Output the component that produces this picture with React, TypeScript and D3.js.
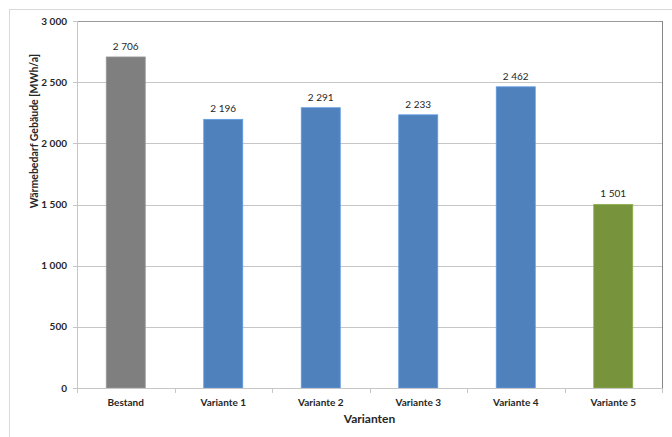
import React from "react";
import * as d3 from "d3";

const categories = ["Bestand", "Variante 1", "Variante 2", "Variante 3", "Variante 4", "Variante 5"];
const values = [2706, 2196, 2291, 2233, 2462, 1501];
const barColors = ["#7f7f7f", "#4f81bd", "#4f81bd", "#4f81bd", "#4f81bd", "#77933c"];
const yTicks = [0, 500, 1000, 1500, 2000, 2500, 3000];
const yTitle = "Wärmebedarf Gebäude [MWh/a]";
const xTitle = "Varianten";

const W = 672;
const H = 437;
const plot = { left: 77, right: 662, top: 21, bottom: 388 };
const FONT = "Lato, 'Open Sans', sans-serif";

// thousands separated by a space, e.g. "2 706"
const fmt = (v: number) => d3.format(",")(v).replace(/,/g, " ");

export default function App() {
  const x = d3
    .scaleBand<string>()
    .domain(categories)
    .range([plot.left, plot.right])
    .paddingInner(0.6)
    .paddingOuter(0.3);
  const y = d3.scaleLinear().domain([0, 3000]).range([plot.bottom, plot.top]);

  const catWidth = (plot.right - plot.left) / categories.length;
  const boundaries = d3.range(categories.length + 1).map((i) => plot.left + i * catWidth);

  return (
    <svg width={W} height={H} style={{ position: "absolute", left: 0, top: 0, background: "#fff" }}>
      {/* chart frame */}
      <rect x={9.5} y={9.5} width={700} height={460} fill="#fff" stroke="#d9d9d9" />

      {/* gridlines */}
      {yTicks.map((t) => (
        <line key={t} x1={plot.left} x2={plot.right} y1={Math.round(y(t)) + 0.5} y2={Math.round(y(t)) + 0.5} stroke="#c6c6c6" />
      ))}

      {/* plot area border (top/right) */}
      <line x1={plot.left} x2={plot.right + 0.5} y1={plot.top + 0.5} y2={plot.top + 0.5} stroke="#9a9a9a" />
      <line x1={plot.right + 0.5} x2={plot.right + 0.5} y1={plot.top} y2={plot.bottom + 1} stroke="#868686" />

      {/* bars */}
      {categories.map((c, i) => (
        <rect
          key={c}
          x={x(c)!}
          y={y(values[i])}
          width={x.bandwidth()}
          height={plot.bottom - y(values[i])}
          fill={barColors[i]}
          stroke={d3.color(barColors[i])!.brighter(0.5).toString()}
          strokeWidth={0.8}
        />
      ))}

      {/* y axis */}
      <line x1={plot.left + 0.5} x2={plot.left + 0.5} y1={plot.top} y2={plot.bottom} stroke="#c6c6c6" />
      {yTicks.map((t) => (
        <g key={t}>
          <line x1={plot.left - 4} x2={plot.left} y1={Math.round(y(t)) + 0.5} y2={Math.round(y(t)) + 0.5} stroke="#c6c6c6" />
          <text x={67} y={y(t) + 3.5} textAnchor="end" fontFamily={FONT} fontWeight="bold" fontSize={10} fill="#262626">
            {fmt(t)}
          </text>
        </g>
      ))}

      {/* x axis */}
      <line x1={plot.left} x2={plot.right} y1={plot.bottom + 0.5} y2={plot.bottom + 0.5} stroke="#c6c6c6" />
      {boundaries.map((b, i) => (
        <line key={i} x1={Math.round(b) + 0.5} x2={Math.round(b) + 0.5} y1={plot.bottom} y2={plot.bottom + 5} stroke="#c6c6c6" />
      ))}
      {categories.map((c) => (
        <text key={c} x={x(c)! + x.bandwidth() / 2} y={406} textAnchor="middle" fontFamily={FONT} fontWeight="bold" fontSize={10} fill="#262626">
          {c}
        </text>
      ))}

      {/* value labels */}
      {categories.map((c, i) => (
        <text key={c} x={x(c)! + x.bandwidth() / 2} y={y(values[i]) - 7} textAnchor="middle" fontFamily={FONT} fontSize={10} fill="#262626">
          {fmt(values[i])}
        </text>
      ))}

      {/* axis titles */}
      <text x={(plot.left + plot.right) / 2} y={423} textAnchor="middle" fontFamily={FONT} fontWeight="bold" fontSize={12} fill="#262626">
        {xTitle}
      </text>
      <text transform={`translate(38,131) rotate(-90)`} textAnchor="middle" fontFamily={FONT} fontWeight="bold" fontSize={10.5} fill="#262626">
        {yTitle}
      </text>
    </svg>
  );
}
